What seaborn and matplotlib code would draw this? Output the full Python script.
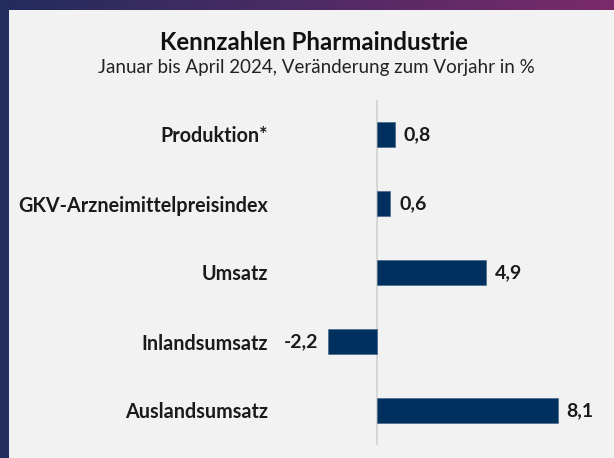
import numpy as np
import pandas as pd
import matplotlib
matplotlib.use("Agg")
import matplotlib.pyplot as plt
import seaborn as sns

categories = ["Produktion*", "GKV-Arzneimittelpreisindex", "Umsatz", "Inlandsumsatz", "Auslandsumsatz"]
values = [0.8, 0.6, 4.9, -2.2, 8.1]
value_labels = ["0,8", "0,6", "4,9", "-2,2", "8,1"]
title = "Kennzahlen Pharmaindustrie"
subtitle = "Januar bis April 2024, Veränderung zum Vorjahr in %"

sns.set_theme(style="white")
plt.rcParams['font.family'] = ['Lato', 'DejaVu Sans']

W, H = 614, 458
fig = plt.figure(figsize=(W / 100, H / 100), dpi=100)

# gradient frame
bg = fig.add_axes([0, 0, 1, 1])
bg.set_axis_off()
grad = np.linspace(0, 1, 256)
c0 = np.array([0x22, 0x2c, 0x5e]) / 255
c1 = np.array([0x7a, 0x2a, 0x6a]) / 255
img = (c0[None, :] * (1 - grad[:, None]) + c1[None, :] * grad[:, None])[None, :, :]
bg.imshow(img, aspect='auto', extent=[0, 1, 0, 1])
bg.set_xlim(0, 1)
bg.set_ylim(0, 1)
bg.add_patch(plt.Rectangle((0, 0), 9 / W, 1, color='#222c5e', lw=0))
bg.add_patch(plt.Rectangle((9 / W, 0), 1, 1 - 10 / H, color='#f2f2f2', lw=0))

df = pd.DataFrame({"cat": categories, "val": values})

left_px, right_px, top_px, bot_px = 278, 600, 100, 445
ax = fig.add_axes([left_px / W, 1 - bot_px / H, (right_px - left_px) / W, (bot_px - top_px) / H])
ax.patch.set_alpha(0)
sns.barplot(data=df, x="val", y="cat", order=categories, color="#00305e", saturation=1,
            width=0.35, edgecolor="#3a5c86", linewidth=0.4, ax=ax)

zero_px = 377
ppu = 22.3
ax.set_xlim((left_px - zero_px) / ppu, (right_px - zero_px) / ppu)
ax.set_ylim(4.5, -0.5)
ax.axvline(0, color="#d2d2d2", lw=1.2, zorder=0)

for s in ax.spines.values():
    s.set_visible(False)
ax.set_xticks([])
ax.set_xlabel("")
ax.set_ylabel("")
ax.tick_params(axis='y', length=0, pad=7)
for t in ax.get_yticklabels():
    t.set_fontweight('bold')
    t.set_fontsize(14.2)
    t.set_color('#1a1a1a')

for i, (v, lab) in enumerate(zip(values, value_labels)):
    if v >= 0:
        ax.annotate(lab, (v, i), xytext=(6.5, 0), textcoords='offset points',
                    ha='left', va='center', fontsize=14, fontweight='bold', color='#1a1a1a')
    else:
        ax.annotate(lab, (v, i), xytext=(-7, 0), textcoords='offset points',
                    ha='right', va='center', fontsize=14, fontweight='bold', color='#1a1a1a')

fig.text(314 / W, 1 - 42 / H, title, ha='center', va='center', fontsize=17.3,
         fontweight='bold', color='#111111')
fig.text(316 / W, 1 - 68 / H, subtitle, ha='center', va='center', fontsize=13.5,
         color='#222222')

fig.savefig("out.png", dpi=100)
